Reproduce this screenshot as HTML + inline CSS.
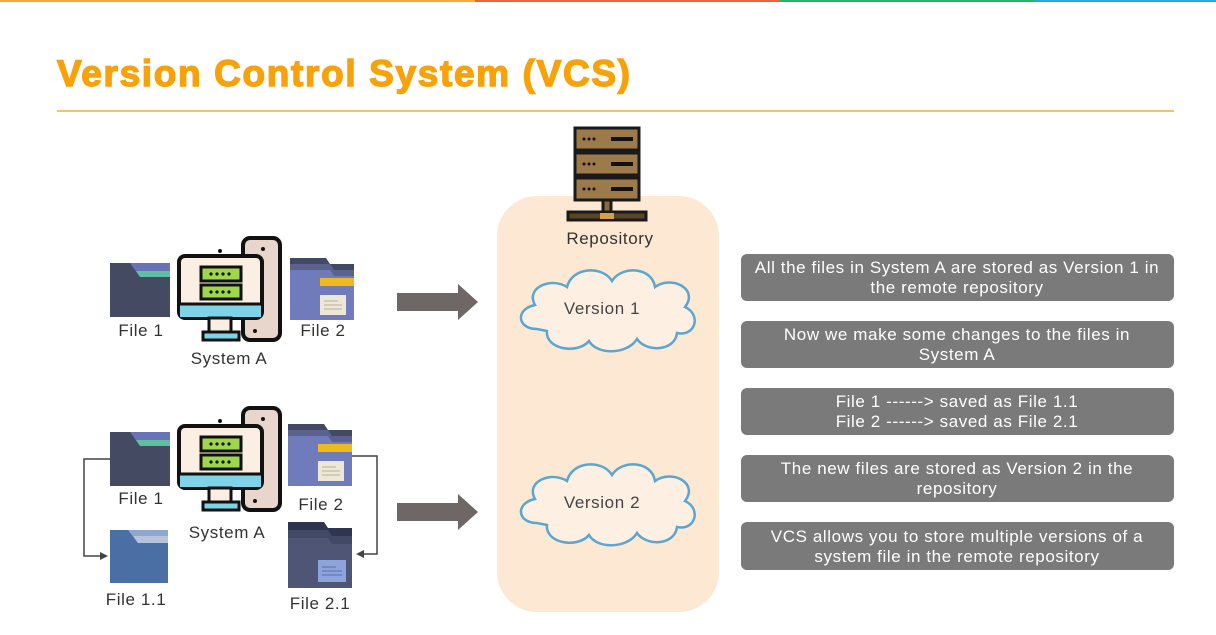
<!DOCTYPE html>
<html><head><meta charset="utf-8"><style>
html,body{margin:0;padding:0;background:#fff;}
svg{display:block;}
text{font-family:"Liberation Sans",sans-serif;}
.l{font-size:17px;letter-spacing:0.6px;}
</style></head><body>
<svg width="1216" height="635" viewBox="0 0 1216 635" xmlns="http://www.w3.org/2000/svg">
<defs>
<g id="comp">
  <rect x="66" y="-17" width="37" height="102" rx="7" fill="#e8d6cc" stroke="#111" stroke-width="4"/>
  <circle cx="86" cy="-6" r="2" fill="#111"/><circle cx="78" cy="76" r="2" fill="#111"/>
  <rect x="2" y="1" width="83" height="62" rx="6" fill="#fbeee2" stroke="#111" stroke-width="4"/>
  <rect x="3" y="50" width="81" height="12" fill="#7fd3e6"/>
  <line x1="2" y1="49" x2="85" y2="49" stroke="#111" stroke-width="3"/>
  <rect x="32" y="63" width="22" height="14" fill="#fbeee2" stroke="#111" stroke-width="3"/>
  <rect x="26" y="77" width="36" height="8" fill="#7fd3e6" stroke="#111" stroke-width="3"/>
  <rect x="24" y="12" width="40" height="14" fill="#9fd64a" stroke="#111" stroke-width="3"/>
  <rect x="24" y="30" width="40" height="14" fill="#9fd64a" stroke="#111" stroke-width="3"/>
  <g fill="#111"><circle cx="34" cy="19" r="1.6"/><circle cx="40" cy="19" r="1.6"/><circle cx="46" cy="19" r="1.6"/><circle cx="52" cy="19" r="1.6"/>
  <circle cx="34" cy="37" r="1.6"/><circle cx="40" cy="37" r="1.6"/><circle cx="46" cy="37" r="1.6"/><circle cx="52" cy="37" r="1.6"/></g>
  <circle cx="43" cy="-4" r="2" fill="#111"/>
</g>
<g id="folderA">
  <rect x="0" y="0" width="60" height="54" fill="#454a63"/>
  <polygon points="20,0 60,0 60,14 30,14" fill="#6a73b5"/>
  <polygon points="26,8 60,8 60,14 30,14" fill="#5fbfa0"/>
</g>
<g id="folderB">
  <polygon points="0,0 36,0 40,6 64,6 64,62 0,62" fill="#414965"/>
  <polygon points="0,6 40,6 44,12 64,12 64,62 0,62" fill="#5b6290"/>
  <polygon points="0,12 40,12 44,18 64,18 64,62 0,62" fill="#6f7bbb"/>
  <rect x="30" y="20" width="34" height="8" fill="#f0b91c"/>
  <rect x="30" y="37" width="26" height="20" fill="#ece7d6"/>
  <g stroke="#c9c2ad" stroke-width="1.5"><line x1="34" y1="43" x2="48" y2="43"/><line x1="34" y1="47" x2="52" y2="47"/><line x1="34" y1="51" x2="52" y2="51"/></g>
</g>
<path id="cloud" d="M-70,20 C-90,20 -92,0 -72,-4 C-82,-22 -55,-32 -40,-22 C-35,-42 -5,-44 5,-28 C15,-44 45,-42 48,-22 C65,-34 92,-20 78,-2 C95,6 88,28 70,24 C68,42 40,44 30,30 C20,46 -10,46 -18,32 C-30,46 -62,40 -60,22 Z" fill="#fdf0e2" stroke="#5aa6d0" stroke-width="2.5"/>
</defs>

<rect x="0" y="0" width="475" height="2" fill="#f3a93c"/>
<rect x="475" y="0" width="305" height="2" fill="#e5683c"/>
<rect x="780" y="0" width="255" height="2" fill="#27b36a"/>
<rect x="1035" y="0" width="181" height="2" fill="#29a8e0"/>

<text x="57" y="86" font-size="37" font-weight="bold" fill="#f7a20a" stroke="#f7a20a" stroke-width="1.4" textLength="573" lengthAdjust="spacing">Version Control System (VCS)</text>
<rect x="57" y="110" width="1117" height="2" fill="#f5c26b"/>

<!-- repository -->
<rect x="497" y="196" width="222" height="416" rx="40" fill="#fde9d3"/>
<g stroke="#1a1a1a" stroke-width="3">
  <rect x="575" y="128" width="64" height="22" fill="#9c7a4a"/>
  <rect x="575" y="153" width="64" height="22" fill="#9c7a4a"/>
  <rect x="575" y="178" width="64" height="22" fill="#9c7a4a"/>
  <rect x="603" y="200" width="8" height="12" fill="#8b6a3e"/>
  <rect x="568" y="212" width="78" height="8" fill="#5a4426"/>
</g>
<rect x="600" y="213" width="14" height="6" fill="#d9a04a"/>
<g fill="#111"><circle cx="584" cy="139" r="1.5"/><circle cx="589" cy="139" r="1.5"/><circle cx="594" cy="139" r="1.5"/><rect x="611" y="137" width="22" height="4"/>
<circle cx="584" cy="164" r="1.5"/><circle cx="589" cy="164" r="1.5"/><circle cx="594" cy="164" r="1.5"/><rect x="611" y="162" width="22" height="4"/>
<circle cx="584" cy="189" r="1.5"/><circle cx="589" cy="189" r="1.5"/><circle cx="594" cy="189" r="1.5"/><rect x="611" y="187" width="22" height="4"/></g>
<text class="l" x="610" y="244" fill="#333" text-anchor="middle">Repository</text>
<use href="#cloud" transform="translate(607,309)"/>
<text class="l" x="602" y="314" fill="#444" text-anchor="middle">Version 1</text>
<use href="#cloud" transform="translate(607,503)"/>
<text class="l" x="602" y="508" fill="#444" text-anchor="middle">Version 2</text>

<!-- system A top -->
<use href="#folderA" x="110" y="263"/>
<use href="#comp" x="177" y="255"/>
<use href="#folderB" x="290" y="258"/>
<text class="l" x="141" y="336" fill="#333" text-anchor="middle">File 1</text>
<text class="l" x="323" y="336" fill="#333" text-anchor="middle">File 2</text>
<text class="l" x="229" y="364" fill="#333" text-anchor="middle">System A</text>
<polygon points="397,293 458,293 458,284 478,302 458,320 458,311 397,311" fill="#6f6766"/>

<!-- system A bottom -->
<use href="#folderA" x="110" y="432"/>
<use href="#comp" x="177" y="425"/>
<use href="#folderB" x="288" y="424"/>
<g>
  <rect x="110" y="530" width="58" height="53" fill="#4a6fa5"/>
  <polygon points="128,530 168,530 168,543 138,543" fill="#8fa7cc"/>
  <polygon points="133,536 168,536 168,543 138,543" fill="#b4c4dc"/>
</g>
<g>
  <polygon points="288,522 324,522 328,528 352,528 352,588 288,588" fill="#2f3550"/>
  <polygon points="288,530 328,530 332,536 352,536 352,588 288,588" fill="#414965"/>
  <polygon points="288,538 328,538 332,544 352,544 352,588 288,588" fill="#4e5575"/>
  <rect x="318" y="560" width="28" height="22" fill="#8ea2dc"/>
  <g stroke="#6b7fbe" stroke-width="1.5"><line x1="322" y1="567" x2="336" y2="567"/><line x1="322" y1="571" x2="342" y2="571"/><line x1="322" y1="575" x2="342" y2="575"/></g>
</g>
<text class="l" x="141" y="504" fill="#333" text-anchor="middle">File 1</text>
<text class="l" x="321" y="510" fill="#333" text-anchor="middle">File 2</text>
<text class="l" x="227" y="538" fill="#333" text-anchor="middle">System A</text>
<text class="l" x="136" y="605" fill="#333" text-anchor="middle">File 1.1</text>
<text class="l" x="320" y="609" fill="#333" text-anchor="middle">File 2.1</text>
<polyline points="110,459 84,459 84,556 103,556" fill="none" stroke="#444" stroke-width="1.5"/>
<polygon points="108,556 100,552 100,560" fill="#444"/>
<polyline points="352,456 377,456 377,554 361,554" fill="none" stroke="#444" stroke-width="1.5"/>
<polygon points="356,554 364,550 364,558" fill="#444"/>
<polygon points="397,503 458,503 458,494 478,512 458,530 458,521 397,521" fill="#6f6766"/>

<!-- right boxes -->
<g fill="#7a7a7a">
<rect x="741" y="254" width="433" height="47" rx="6"/>
<rect x="741" y="321" width="433" height="47" rx="6"/>
<rect x="741" y="388" width="433" height="47" rx="6"/>
<rect x="741" y="455" width="433" height="47" rx="6"/>
<rect x="741" y="522" width="433" height="48" rx="6"/>
</g>
<g fill="#fff" text-anchor="middle">
<text class="l" x="957" y="273">All the files in System A are stored as Version 1 in</text>
<text class="l" x="957" y="293">the remote repository</text>
<text class="l" x="957" y="340">Now we make some changes to the files in</text>
<text class="l" x="957" y="360">System A</text>
<text class="l" x="957" y="407">File 1 ------&gt; saved as File 1.1</text>
<text class="l" x="957" y="427">File 2 ------&gt; saved as File 2.1</text>
<text class="l" x="957" y="474">The new files are stored as Version 2 in the</text>
<text class="l" x="957" y="494">repository</text>
<text class="l" x="957" y="542">VCS allows you to store multiple versions of a</text>
<text class="l" x="957" y="562">system file in the remote repository</text>
</g>
</svg>
</body></html>
